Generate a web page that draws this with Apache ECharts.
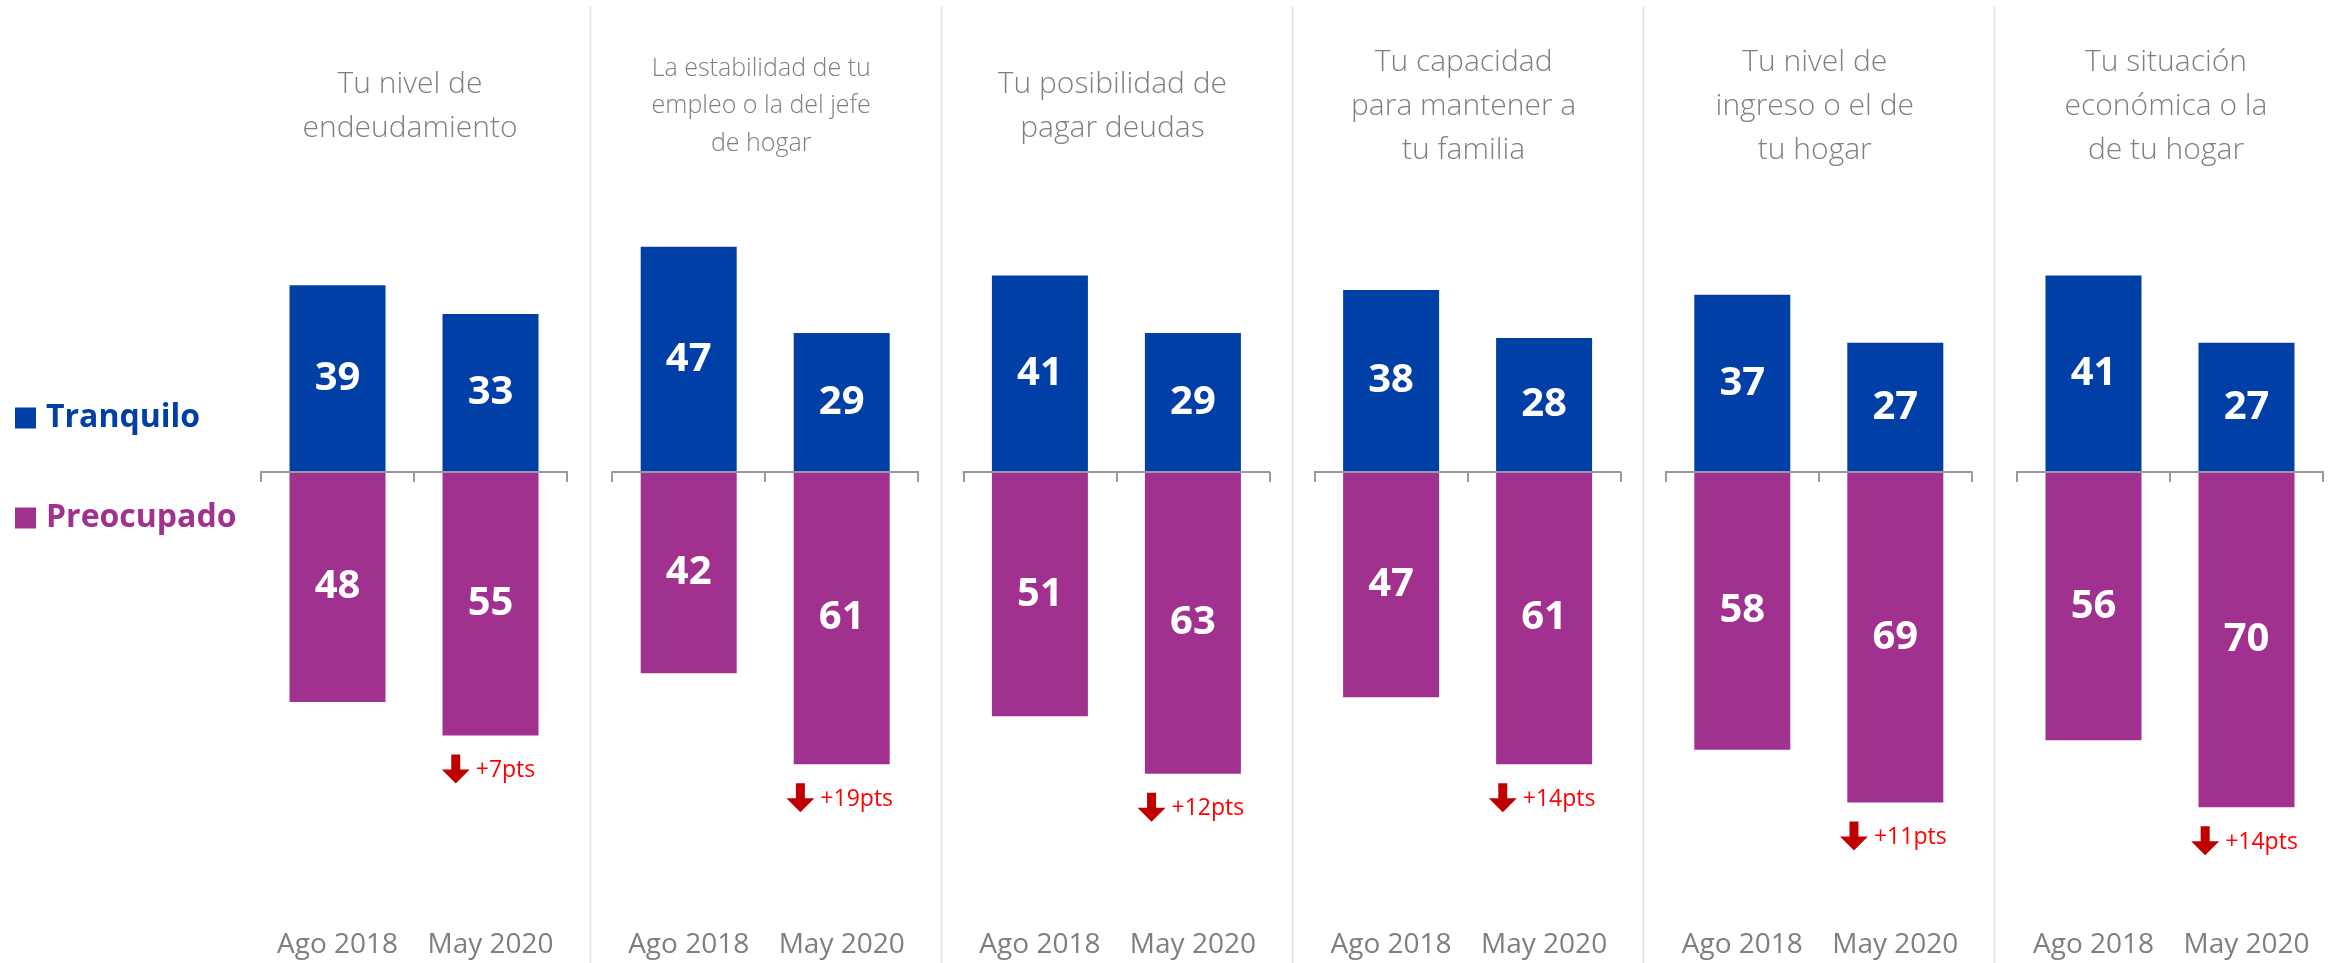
<!DOCTYPE html>
<html>
<head>
<meta charset="utf-8">
<script src="https://cdn.jsdelivr.net/npm/echarts@6/dist/echarts.min.js"></script>
<style>
  html, body { margin: 0; padding: 0; background: #ffffff; }
  #chart { width: 2339px; height: 963px; }
</style>
</head>
<body>
<div id="chart"></div>
<script>
// Survey topics, one panel each
const topics = [
  'Tu nivel de\nendeudamiento',
  'La estabilidad de tu\nempleo o la del jefe\nde hogar',
  'Tu posibilidad de\npagar deudas',
  'Tu capacidad\npara mantener a\ntu familia',
  'Tu nivel de\ningreso o el de\ntu hogar',
  'Tu situación\neconómica o la\nde tu hogar'
];
const periods = ['Ago 2018', 'May 2020'];
// Percent answering "Tranquilo" / "Preocupado" per topic: [Ago 2018, May 2020]
const tranquilo = [[39, 33], [47, 29], [41, 29], [38, 28], [37, 27], [41, 27]];
const preocupado = [[48, 55], [42, 61], [51, 63], [47, 61], [58, 69], [56, 70]];

const BLUE = '#003fa6';
const PURPLE = '#a0318f';
const GREY_TEXT = '#7f7f7f';
const FONT = '"Open Sans", "Liberation Sans", sans-serif';

// Panel geometry
const PANEL_LEFT = 261, PANEL_STEP = 351.2, PANEL_WIDTH = 306;
const ZERO_Y = 472, PX_PER_PT = 4.79, Y_MAX = 60, Y_MIN = -92;
const GRID_TOP = ZERO_Y - Y_MAX * PX_PER_PT;
const GRID_HEIGHT = (Y_MAX - Y_MIN) * PX_PER_PT;

const measureCtx = document.createElement('canvas').getContext('2d');
function textWidth(text, font) {
  measureCtx.font = font;
  return measureCtx.measureText(text).width;
}

const CHANGE_FONT_SIZE = 23;
// Red down arrow + "+Npts" under the May 2020 bar
function renderChange(params, api) {
  const pt = api.coord([api.value(0), api.value(1)]);
  const text = '+' + api.value(2) + 'pts';
  const tw = textWidth(text, CHANGE_FONT_SIZE + 'px ' + FONT);
  const aw = 28, ah = 29, sw = 9, hh = 14, gap = 6;
  const x0 = pt[0] - (aw + gap + tw) / 2 - 2;
  const y0 = pt[1] + 19;
  const sx = x0 + (aw - sw) / 2;
  return {
    type: 'group',
    children: [
      {
        type: 'polygon',
        shape: {
          points: [
            [sx, y0], [sx + sw, y0], [sx + sw, y0 + ah - hh], [x0 + aw, y0 + ah - hh],
            [x0 + aw / 2, y0 + ah], [x0, y0 + ah - hh], [sx, y0 + ah - hh]
          ]
        },
        style: { fill: '#c00000' }
      },
      {
        type: 'text',
        x: x0 + aw + gap,
        y: y0 + 16,
        style: {
          text: text,
          fill: '#ff0000',
          fontSize: CHANGE_FONT_SIZE,
          fontFamily: FONT,
          align: 'left',
          verticalAlign: 'middle'
        }
      }
    ]
  };
}

const grids = [], xAxes = [], yAxes = [], series = [], graphics = [];

topics.forEach((topic, i) => {
  const left = PANEL_LEFT + i * PANEL_STEP;
  grids.push({
    left: left, width: PANEL_WIDTH, top: GRID_TOP, height: GRID_HEIGHT,
    containLabel: false, outerBoundsMode: 'none'
  });
  // Baseline axis at zero: line and boundary ticks only
  xAxes.push({
    type: 'category',
    gridIndex: i,
    data: periods,
    z: 3,
    axisLine: { onZero: true, lineStyle: { color: '#9a9a9a', width: 2 } },
    axisTick: { show: true, length: 10, lineStyle: { color: '#9a9a9a', width: 2 } },
    axisLabel: { show: false }
  });
  // Period labels along the bottom of the panel
  xAxes.push({
    type: 'category',
    gridIndex: i,
    data: periods,
    position: 'bottom',
    axisLine: { show: false, onZero: false },
    axisTick: { show: false },
    axisLabel: {
      interval: 0,
      color: GREY_TEXT, fontFamily: FONT, fontSize: 28,
      margin: 32, verticalAlign: 'middle'
    }
  });
  yAxes.push({
    type: 'value', gridIndex: i, min: Y_MIN, max: Y_MAX,
    show: false, splitLine: { show: false }
  });

  series.push({
    name: 'Tranquilo',
    type: 'bar',
    xAxisIndex: 2 * i, yAxisIndex: i,
    data: tranquilo[i],
    barWidth: 96,
    barGap: '-100%',
    itemStyle: { color: BLUE },
    label: {
      show: true, position: 'inside', color: '#ffffff',
      fontFamily: FONT, fontWeight: 'bold', fontSize: 40
    }
  });
  series.push({
    name: 'Preocupado',
    type: 'bar',
    xAxisIndex: 2 * i, yAxisIndex: i,
    data: preocupado[i].map(v => -v),
    barWidth: 96,
    barGap: '-100%',
    itemStyle: { color: PURPLE },
    label: {
      show: true, position: 'inside', color: '#ffffff',
      fontFamily: FONT, fontWeight: 'bold', fontSize: 40,
      formatter: p => Math.abs(p.value)
    }
  });
  series.push({
    type: 'custom',
    xAxisIndex: 2 * i, yAxisIndex: i,
    encode: { x: 0, y: 1 },
    data: [[1, -preocupado[i][1], preocupado[i][1] - preocupado[i][0]]],
    renderItem: renderChange,
    silent: true
  });

  // Topic heading above each panel
  const small = topic.split('\n')[0].length > 18;
  graphics.push({
    type: 'text',
    x: left + PANEL_WIDTH / 2 - 4,
    y: 106,
    style: {
      text: topic,
      fill: GREY_TEXT,
      fontFamily: FONT,
      fontWeight: 300,
      fontSize: small ? 25 : 30,
      lineHeight: small ? 37.5 : 44,
      align: 'center',
      verticalAlign: 'middle'
    }
  });

  // Divider between panels
  if (i < topics.length - 1) {
    const x = Math.round(left + PANEL_WIDTH + (PANEL_STEP - PANEL_WIDTH) / 2) + 0.5;
    graphics.push({
      type: 'line',
      shape: { x1: x, y1: 6, x2: x, y2: 963 },
      style: { stroke: '#e2e2e2', lineWidth: 1.5 }
    });
  }
});

const chart = echarts.init(document.getElementById('chart'), null, { renderer: 'canvas' });
chart.setOption({
  backgroundColor: '#ffffff',
  animation: false,
  legend: {
    orient: 'vertical',
    left: 15,
    top: 398,
    padding: 0,
    icon: 'rect',
    itemWidth: 21,
    itemHeight: 21,
    itemGap: 60,
    selectedMode: false,
    textStyle: {
      fontFamily: FONT, fontWeight: 'bold', fontSize: 32, lineHeight: 40,
      padding: [0, 0, 0, 5]
    },
    data: [
      { name: 'Tranquilo', textStyle: { color: BLUE } },
      { name: 'Preocupado', textStyle: { color: PURPLE } }
    ]
  },
  grid: grids,
  xAxis: xAxes,
  yAxis: yAxes,
  series: series,
  graphic: graphics
});
</script>
</body>
</html>
